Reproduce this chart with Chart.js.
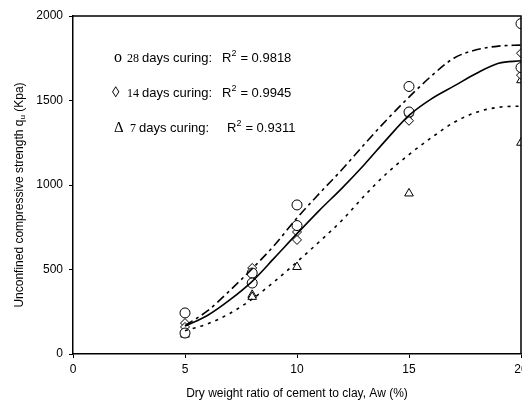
<!DOCTYPE html>
<html><head><meta charset="utf-8">
<script src="https://cdn.jsdelivr.net/npm/chart.js@4"></script>
<style>html,body{margin:0;padding:0;background:#fff}#wrap{width:522px;height:402px}</style>
</head><body><div id="wrap"><canvas id="c" width="522" height="402"></canvas></div>
<script>
// ---- data ----
const xTicks = [0, 5, 10, 15, 20];
const yTicks = [0, 500, 1000, 1500, 2000];

const d28X = [5, 5, 8, 8, 10, 10, 15, 15, 20, 20];
const d28Y = [243, 124, 479, 420, 882, 760, 1583, 1432, 1955, 1695];
const d14X = [5, 5, 8, 10, 10, 15, 15, 20, 20];
const d14Y = [183, 160, 509, 722, 675, 1414, 1380, 1780, 1650];
const d7X = [5, 8, 8, 10, 15, 20, 20];
const d7Y = [115, 350, 338, 515, 950, 1620, 1250];

const fitX   = [5, 6, 7, 8, 9, 10, 11, 12, 13, 14, 15, 16, 17, 18, 19, 20];
const fit28Y = [168, 255, 375, 505, 645, 805, 950, 1090, 1240, 1385, 1520, 1645, 1750, 1800, 1822, 1828];
const fit14Y = [165, 228, 320, 430, 570, 712, 850, 980, 1120, 1270, 1412, 1510, 1585, 1660, 1720, 1735];
const fit7Y  = [138, 178, 240, 325, 430, 545, 665, 790, 935, 1068, 1180, 1280, 1370, 1430, 1460, 1467];

const legendSym  = ['\u03BF', '\u25CA', '\u0394'];
const legendDays = ['28', '14', '7'];
const legendR2   = ['0.9818', '0.9945', '0.9311'];

const xTitle = 'Dry weight ratio of cement to clay, Aw (%)';
const yTitleA = 'Unconfined compressive strength q';
const yTitleSub = 'u';
const yTitleB = ' (Kpa)';

// ---- build ----
const zip = (xs, ys) => xs.map((x, i) => ({x, y: ys[i]}));
const ptBase = {showLine: false, pointBackgroundColor: '#fff', pointBorderColor: '#000', pointBorderWidth: 1, borderColor: '#000'};
const lnBase = {showLine: true, pointRadius: 0, pointHoverRadius: 0, borderColor: '#000', borderWidth: 1.6, tension: 0.4, cubicInterpolationMode: 'monotone', fill: false};

const SANS = '"Liberation Sans", Arial, sans-serif';
const SERIF = '"Liberation Serif", "Times New Roman", serif';

const deco = {
  id: 'deco',
  afterDraw(chart) {
    const ctx = chart.ctx, a = chart.chartArea;
    ctx.save();
    ctx.strokeStyle = '#000'; ctx.lineWidth = 1.5;
    ctx.beginPath();
    ctx.moveTo(a.left, a.top); ctx.lineTo(a.right, a.top); ctx.lineTo(a.right, a.bottom);
    ctx.stroke();
    // legend text block
    ctx.fillStyle = '#000';
    ctx.textBaseline = 'alphabetic';
    ctx.textAlign = 'left';
    const base = [62, 97, 132];
    const symX = [114, 112, 114];
    const symF = ['16px ', '15px ', '15px '];
    const numX = [127, 127, 130];
    const rX = [222, 222, 227];
    for (let i = 0; i < 3; i++) {
      const y = base[i];
      ctx.font = symF[i] + SERIF;
      ctx.fillText(legendSym[i], symX[i], y);
      ctx.font = '12px ' + SERIF;
      ctx.fillText(legendDays[i], numX[i], y);
      const nw = ctx.measureText(legendDays[i]).width;
      ctx.font = '13px ' + SANS;
      ctx.fillText('days curing:', numX[i] + nw + 3, y);
      ctx.fillText('R', rX[i], y);
      const rw = ctx.measureText('R').width;
      ctx.font = '9px ' + SANS;
      ctx.fillText('2', rX[i] + rw, y - 6);
      ctx.font = '13px ' + SANS;
      ctx.fillText('= ' + legendR2[i], rX[i] + rw + 9, y);
    }
    // axis titles
    ctx.font = '12px ' + SANS;
    ctx.textAlign = 'center';
    ctx.fillText(xTitle, 297, 397);
    ctx.save();
    ctx.translate(23, 195);
    ctx.rotate(-Math.PI / 2);
    ctx.font = '12px ' + SANS;
    const wA = ctx.measureText(yTitleA).width;
    const wB = ctx.measureText(yTitleB).width;
    ctx.font = '8px ' + SANS;
    const wS = ctx.measureText(yTitleSub).width;
    const total = wA + wS + wB;
    let sx = -total / 2;
    ctx.textAlign = 'left';
    ctx.font = '12px ' + SANS;
    ctx.fillText(yTitleA, sx, 0); sx += wA;
    ctx.font = '8px ' + SANS;
    ctx.fillText(yTitleSub, sx, 2); sx += wS;
    ctx.font = '12px ' + SANS;
    ctx.fillText(yTitleB, sx, 0);
    ctx.restore();
    ctx.restore();
  }
};

new Chart(document.getElementById('c'), {
  type: 'scatter',
  data: {
    datasets: [
      Object.assign({label: '28 days', data: zip(fitX, fit28Y), borderDash: [9, 4, 3, 4]}, lnBase),
      Object.assign({label: '14 days', data: zip(fitX, fit14Y)}, lnBase),
      Object.assign({label: '7 days', data: zip(fitX, fit7Y), borderDash: [3, 5]}, lnBase),
      Object.assign({label: '28 pts', data: zip(d28X, d28Y), pointStyle: 'circle', pointRadius: 5}, ptBase),
      Object.assign({label: '14 pts', data: zip(d14X, d14Y), pointStyle: 'rectRot', pointRadius: 4.5}, ptBase),
      Object.assign({label: '7 pts', data: zip(d7X, d7Y), pointStyle: 'triangle', pointRadius: 5}, ptBase)
    ]
  },
  options: {
    responsive: false,
    animation: false,
    events: [],
    layout: {autoPadding: false, padding: {top: 16, right: 1, left: 0, bottom: 0}},
    plugins: {legend: {display: false}, tooltip: {enabled: false}},
    scales: {
      x: {
        type: 'linear', min: 0, max: 20,
        afterBuildTicks(s) { s.ticks = xTicks.map(v => ({value: v})); },
        afterFit(s) { s.height = 48; s.paddingLeft = 0; s.paddingRight = 0; },
        ticks: {color: '#000', font: {family: SANS, size: 12}, padding: 4, maxRotation: 0, autoSkip: false, callback: v => String(v)},
        grid: {drawOnChartArea: false, drawTicks: true, tickLength: 4, color: '#000', tickColor: '#000'},
        border: {display: true, color: '#000', width: 1.5}
      },
      y: {
        type: 'linear', min: 0, max: 2000,
        afterBuildTicks(s) { s.ticks = yTicks.map(v => ({value: v})); },
        afterFit(s) { s.width = 73; s.paddingTop = 0; s.paddingBottom = 0; },
        ticks: {color: '#000', font: {family: SANS, size: 12}, padding: 6, autoSkip: false, callback: v => String(v)},
        grid: {drawOnChartArea: false, drawTicks: true, tickLength: 4, color: '#000', tickColor: '#000'},
        border: {display: true, color: '#000', width: 1.5}
      }
    }
  },
  plugins: [deco]
});
</script></body></html>
